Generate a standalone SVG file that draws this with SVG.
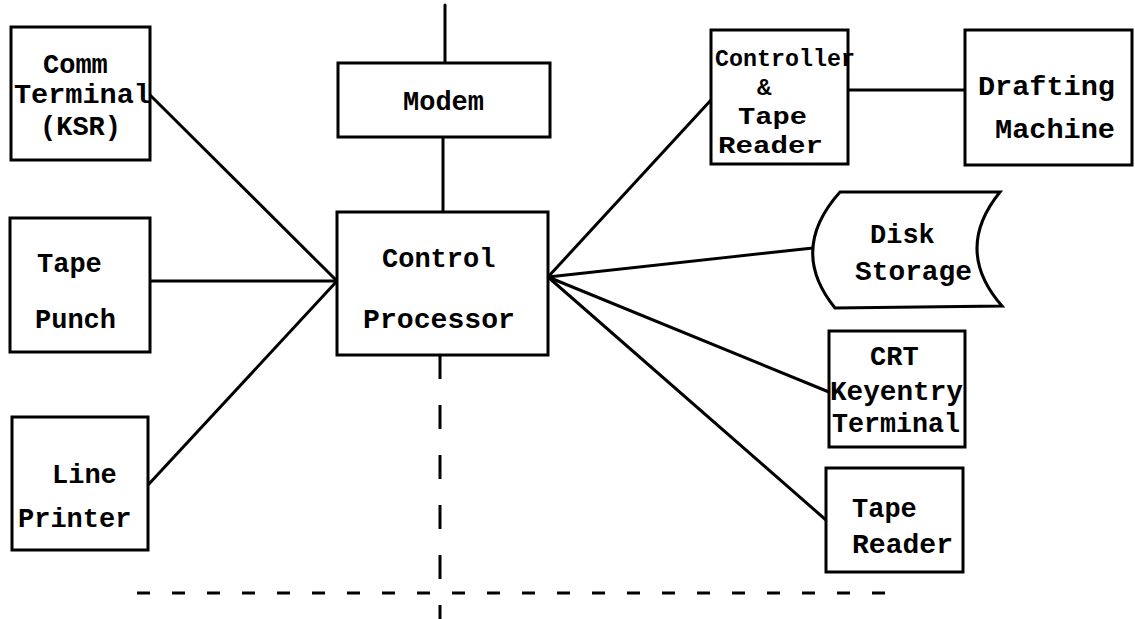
<svg xmlns="http://www.w3.org/2000/svg" width="1135" height="619" viewBox="0 0 1135 619">
<style>
  .box { fill: #fff; stroke: #000; stroke-width: 3; }
  .ln { stroke: #000; stroke-width: 3; fill: none; stroke-linecap: round; }
  .dv { stroke: #000; stroke-width: 3; fill: none; stroke-dasharray: 24 26; }
  .dh { stroke: #000; stroke-width: 3; fill: none; stroke-dasharray: 13 22; }
  text { font-family: "Liberation Mono", "Courier New", monospace; font-size: 27px; font-weight: bold; fill: #000; }
  .sm { font-size: 24px; }
</style>
<rect width="1135" height="619" fill="#fff"/>
<g id="connectors">
  <line class="ln" x1="445" y1="5" x2="445" y2="63"/>
  <line class="ln" x1="443" y1="137" x2="443" y2="212"/>
  <line class="ln" x1="150" y1="95" x2="337" y2="281"/>
  <line class="ln" x1="150" y1="281" x2="337" y2="281"/>
  <line class="ln" x1="148" y1="485" x2="337" y2="281"/>
  <line class="ln" x1="548" y1="277" x2="711" y2="100"/>
  <line class="ln" x1="848" y1="90" x2="965" y2="90"/>
  <line class="ln" x1="548" y1="277" x2="813" y2="248"/>
  <line class="ln" x1="548" y1="277" x2="829" y2="392"/>
  <line class="ln" x1="548" y1="277" x2="826" y2="520"/>
  <line class="dv" x1="440" y1="355" x2="440" y2="619"/>
  <line class="dh" x1="137" y1="593" x2="885" y2="593"/>
</g>
<g id="comm-terminal">
  <rect class="box" x="11" y="27" width="139" height="133"/>
  <text x="43" y="73">Comm</text>
  <text x="14" y="103" textLength="137" lengthAdjust="spacingAndGlyphs">Terminal</text>
  <text x="40" y="135">(KSR)</text>
</g>
<g id="tape-punch">
  <rect class="box" x="10" y="218" width="140" height="134"/>
  <text x="37" y="272">Tape</text>
  <text x="35" y="328">Punch</text>
</g>
<g id="line-printer">
  <rect class="box" x="12" y="417" width="136" height="133"/>
  <text x="52" y="483">Line</text>
  <text x="18" y="527">Printer</text>
</g>
<g id="modem">
  <rect class="box" x="338" y="63" width="212" height="74"/>
  <text x="403" y="110">Modem</text>
</g>
<g id="control-processor">
  <rect class="box" x="337" y="212" width="211" height="143"/>
  <text x="382" y="267">Control</text>
  <text x="363" y="328" textLength="152" lengthAdjust="spacingAndGlyphs">Processor</text>
</g>
<g id="controller-tape-reader">
  <rect class="box" x="711" y="30" width="137" height="134"/>
  <text class="sm" x="715" y="66" textLength="140" lengthAdjust="spacingAndGlyphs">Controller</text>
  <text class="sm" x="757" y="95">&amp;</text>
  <text class="sm" x="738" y="124" textLength="69" lengthAdjust="spacingAndGlyphs">Tape</text>
  <text class="sm" x="718" y="153" textLength="105" lengthAdjust="spacingAndGlyphs">Reader</text>
</g>
<g id="drafting-machine">
  <rect class="box" x="965" y="30" width="167" height="135"/>
  <text x="978" y="95" textLength="137" lengthAdjust="spacingAndGlyphs">Drafting</text>
  <text x="995" y="138" textLength="120" lengthAdjust="spacingAndGlyphs">Machine</text>
</g>
<g id="disk-storage">
  <path class="box" d="M 840 192 L 1000 192 Q 953 250 1002 306 L 835 308 Q 788 250 840 192 Z"/>
  <text x="870" y="243">Disk</text>
  <text x="855" y="280" textLength="117" lengthAdjust="spacingAndGlyphs">Storage</text>
</g>
<g id="crt-terminal">
  <rect class="box" x="829" y="331" width="136" height="116"/>
  <text x="870" y="365">CRT</text>
  <text x="830" y="400" textLength="133" lengthAdjust="spacingAndGlyphs">Keyentry</text>
  <text x="832" y="432" textLength="128" lengthAdjust="spacingAndGlyphs">Terminal</text>
</g>
<g id="tape-reader">
  <rect class="box" x="826" y="468" width="137" height="104"/>
  <text x="852" y="517">Tape</text>
  <text x="852" y="553" textLength="101" lengthAdjust="spacingAndGlyphs">Reader</text>
</g>
</svg>
